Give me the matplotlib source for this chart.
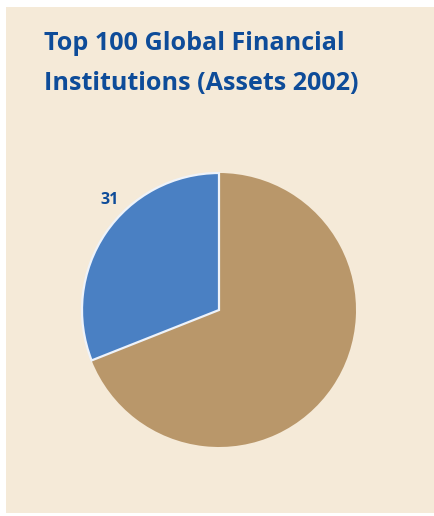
import matplotlib
matplotlib.use("Agg")
import matplotlib.pyplot as plt
from matplotlib.patches import Rectangle

# Share of the top 100 global financial institutions (by assets, 2002)
categories = ["Group A", "Others"]
values = [31, 69]
labels = ["31", ""]

colors = ["#4A80C3", "#B9976A"]
bg_color = "#F5EAD8"
title_color = "#0E4C99"

W, H = 434, 516
fig = plt.figure(figsize=(W / 100, H / 100), dpi=100)
fig.patch.set_facecolor("white")

# beige panel
fig.patches.append(Rectangle((6 / W, 3 / H), 1 - 6 / W, (513 - 7) / H,
                             transform=fig.transFigure, facecolor=bg_color,
                             edgecolor="none", zorder=-5))

title_font = dict(color=title_color, fontsize=18.1, fontweight="bold",
                  family=["Open Sans", "DejaVu Sans"], ha="left", va="center")
fig.text(44 / W, 1 - 43 / H, "Top 100 Global Financial", **title_font)
fig.text(44 / W, 1 - 83 / H, "Institutions (Assets 2002)", **title_font)

cx, cy, r = 219, 310, 137
ax = fig.add_axes([(cx - r) / W, (H - cy - r) / H, 2 * r / W, 2 * r / H],
                  zorder=2)
ax.set_facecolor("none")
wedges, _ = ax.pie(values, colors=colors, startangle=90, counterclock=True,
                   radius=1.0,
                   wedgeprops=dict(edgecolor="white", linewidth=1.6))
# the larger slice has no outline; the blue slice's white edge separates them
wedges[1].set_edgecolor("none")
wedges[0].set_zorder(3)
wedges[0].set_edgecolor("#EEF3FA")
ax.set_xlim(-1.0, 1.0)
ax.set_ylim(-1.0, 1.0)
ax.set_aspect("equal")
ax.axis("off")

ax.text(-0.80, 0.80, labels[0], color=title_color, fontsize=11.5,
        fontweight="bold", family=["Open Sans", "DejaVu Sans"],
        ha="center", va="center", clip_on=False)

fig.savefig("out.png", dpi=100, facecolor=fig.get_facecolor())
